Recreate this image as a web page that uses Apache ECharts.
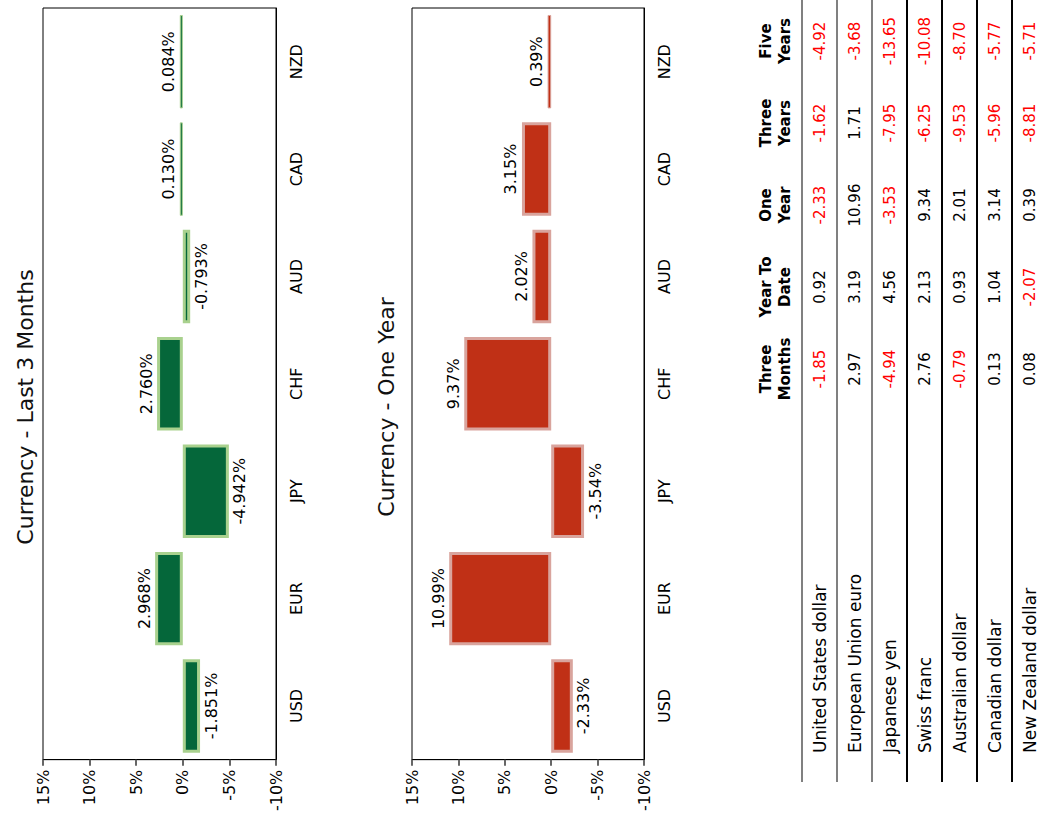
<!DOCTYPE html>
<html>
<head>
<meta charset="utf-8">
<script src="https://cdn.jsdelivr.net/npm/echarts@6/dist/echarts.min.js"></script>
<style>
  html, body { margin: 0; padding: 0; overflow: hidden; background: #fff; width: 1039px; height: 814px; }
  #wrap { position: absolute; left: 0; top: 0; width: 814px; height: 1039px;
          transform-origin: 0 0; transform: translate(0px, 814px) rotate(-90deg); background: #fff; }
  #chart { position: absolute; left: 0; top: 0; width: 814px; height: 740px; }
  #tbl { position: absolute; left: 32px; top: 745px; width: 782px; border-collapse: collapse;
         font-family: "DejaVu Sans", sans-serif; color: #000; table-layout: fixed; }
  #tbl th { font-weight: bold; font-size: 15px; line-height: 19px; height: 50px; vertical-align: bottom;
            padding: 0 0 6px 0; text-align: center; }
  #tbl td { height: 33px; padding: 0; font-size: 15px; text-align: center; vertical-align: middle; border-top: 2px solid #000; }
  #tbl td.name { text-align: left; padding-left: 29px; font-size: 17px; }
  #tbl tr.g td { border-top-color: #808080; }
  #tbl .neg { color: #ff0000; }
</style>
</head>
<body>
<div id="wrap">
  <div id="chart"></div>
  <table id="tbl"></table>
</div>
<script>
// ---- chart data ----
const categories = ['USD', 'EUR', 'JPY', 'CHF', 'AUD', 'CAD', 'NZD'];
const threeMonthValues = [-1.851, 2.968, -4.942, 2.760, -0.793, 0.130, 0.084];
const oneYearValues = [-2.33, 10.99, -3.54, 9.37, 2.02, 3.15, 0.39];
const valueMin = -10;
const valueMax = 15;
const valueStep = 5;
const titles = ['Currency - Last 3 Months', 'Currency - One Year'];

// ---- table data ----
const tableHeaders = ['Three Months', 'Year To Date', 'One Year', 'Three Years', 'Five Years'];
const currencyNames = ['United States dollar', 'European Union euro', 'Japanese yen', 'Swiss franc',
                       'Australian dollar', 'Canadian dollar', 'New Zealand dollar'];
const colThreeMonths = [-1.85, 2.97, -4.94, 2.76, -0.79, 0.13, 0.08];
const colYearToDate = [0.92, 3.19, 4.56, 2.13, 0.93, 1.04, -2.07];
const colOneYear = [-2.33, 10.96, -3.53, 9.34, 2.01, 3.14, 0.39];
const colThreeYears = [-1.62, 1.71, -7.95, -6.25, -9.53, -5.96, -8.81];
const colFiveYears = [-4.92, -3.68, -13.65, -10.08, -8.70, -5.77, -5.71];

const FONT = '"DejaVu Sans", sans-serif';

function barData(values, decimals) {
  return values.map(v => ({
    value: v,
    itemStyle: Math.abs(v) < 0.5 ? { borderWidth: 1 } : undefined,
    label: { position: v >= 0 ? 'top' : 'bottom', formatter: () => v.toFixed(decimals) + '%' }
  }));
}

function makeAxes(idx) {
  return {
    x: {
      type: 'category', gridIndex: idx, data: categories,
      axisLine: { onZero: false, lineStyle: { color: '#000', width: 1 } },
      axisTick: { length: 12, lineStyle: { color: '#888', width: 2 } },
      axisLabel: { color: '#000', fontSize: 16, fontFamily: FONT, margin: 12 }
    },
    y: {
      type: 'value', gridIndex: idx, min: valueMin, max: valueMax, interval: valueStep,
      axisLine: { show: true, lineStyle: { color: '#000', width: 1 } },
      axisTick: { show: true, length: 6, lineStyle: { color: '#666', width: 2 } },
      splitLine: { show: false },
      axisLabel: { color: '#000', fontSize: 16, fontFamily: FONT, margin: 10, formatter: '{value}%' }
    }
  };
}

const a0 = makeAxes(0), a1 = makeAxes(1);
const chart = echarts.init(document.getElementById('chart'), null, { renderer: 'svg' });
chart.setOption({
  animation: false,
  backgroundColor: '#fff',
  title: [
    { text: titles[0], left: 'center', top: 9, textStyle: { fontSize: 22, fontWeight: 'normal', color: '#111', fontFamily: FONT } },
    { text: titles[1], left: 'center', top: 370, textStyle: { fontSize: 22, fontWeight: 'normal', color: '#111', fontFamily: FONT } }
  ],
  grid: [
    { left: 52, top: 43, width: 754, height: 233, show: true, borderColor: '#000', borderWidth: 1, backgroundColor: 'transparent' },
    { left: 52, top: 412, width: 754, height: 232, show: true, borderColor: '#000', borderWidth: 1, backgroundColor: 'transparent' }
  ],
  xAxis: [a0.x, a1.x],
  yAxis: [a0.y, a1.y],
  series: [
    {
      type: 'bar', xAxisIndex: 0, yAxisIndex: 0, barWidth: '87%', barMinHeight: 3,
      data: barData(threeMonthValues, 3),
      itemStyle: { color: '#05673a', borderColor: '#a9d18e', borderWidth: 3 },
      label: { show: true, distance: 3, color: '#000', fontSize: 16, fontFamily: FONT }
    },
    {
      type: 'bar', xAxisIndex: 1, yAxisIndex: 1, barWidth: '87%', barMinHeight: 3,
      data: barData(oneYearValues, 2),
      itemStyle: { color: '#c03016', borderColor: '#d9a49d', borderWidth: 3 },
      label: { show: true, distance: 3, color: '#000', fontSize: 16, fontFamily: FONT }
    }
  ]
});

// ---- table ----
const cols = [colThreeMonths, colYearToDate, colOneYear, colThreeYears, colFiveYears];
const tbl = document.getElementById('tbl');
let html = '<colgroup><col style="width:372px">' + tableHeaders.map(() => '<col style="width:82px">').join('') + '</colgroup>';
html += '<tr><th></th>' + tableHeaders.map(h => {
  const parts = h.split(' ');
  const first = parts.length > 2 ? parts.slice(0, 2).join(' ') : parts[0];
  const second = parts.length > 2 ? parts.slice(2).join(' ') : parts.slice(1).join(' ');
  return '<th>' + first + '<br>' + second + '</th>';
}).join('') + '</tr>';
currencyNames.forEach((name, i) => {
  html += '<tr class="' + (i < 3 ? 'g' : '') + '"><td class="name">' + name + '</td>' +
    cols.map(c => '<td class="' + (c[i] < 0 ? 'neg' : '') + '">' + c[i].toFixed(2) + '</td>').join('') + '</tr>';
});
tbl.innerHTML = html;
</script>
</body>
</html>
